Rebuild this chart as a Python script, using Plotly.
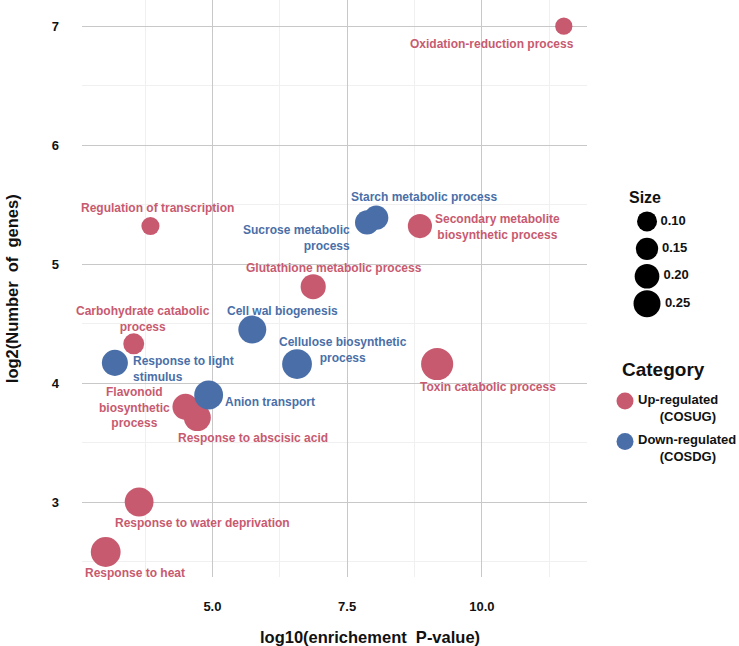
import plotly.graph_objects as go

# ---------------- data ----------------
terms = [
    "Oxidation-reduction process",
    "Regulation of transcription",
    "Secondary metabolite<br>biosynthetic process",
    "Glutathione metabolic process",
    "Carbohydrate catabolic<br>process",
    "Toxin catabolic process",
    "Flavonoid<br>biosynthetic<br>process",
    "Response to abscisic acid",
    "Response to water deprivation",
    "Response to heat",
    "Sucrose metabolic<br>process",
    "Starch metabolic process",
    "Cell wal biogenesis",
    "Response to light<br>stimulus",
    "Cellulose biosynthetic<br>process",
    "Anion transport",
]
log10_p = [11.52, 3.85, 8.85, 6.87, 3.54, 9.17, 4.50, 4.72, 3.64, 3.02,
           7.87, 8.04, 5.74, 3.19, 6.57, 4.93]
log2_genes = [7.00, 5.32, 5.32, 4.81, 4.33, 4.16, 3.80, 3.71, 3.00, 2.58,
              5.35, 5.39, 4.45, 4.17, 4.16, 3.90]
gene_ratio = [0.04, 0.06, 0.19, 0.21, 0.12, 0.36, 0.23, 0.25, 0.29, 0.31,
              0.19, 0.19, 0.27, 0.23, 0.31, 0.29]
category = ["up"] * 10 + ["down"] * 6

category_names = ["up", "down"]
category_labels = ["Up-regulated<br>\u00a0\u00a0\u00a0\u00a0\u00a0\u00a0(COSUG)",
                   "Down-regulated<br>\u00a0\u00a0\u00a0\u00a0\u00a0\u00a0(COSDG)"]
size_breaks = [0.10, 0.15, 0.20, 0.25]
size_break_labels = ["0.10", "0.15", "0.20", "0.25"]
x_tickvals = [5.0, 7.5, 10.0]
x_ticktext = ["5.0", "7.5", "10.0"]
y_tickvals = [3, 4, 5, 6, 7]

# ---------------- style ----------------
COLORS = {"up": "#C85A70", "down": "#4A6FA8"}
FONT = "Liberation Sans, Arial, Helvetica, sans-serif"
INK = "#111111"


def diam(v):
    return 20 + (v - 0.10) * 46.7


# label offsets (pixels): xshift, yshift, xanchor, align
label_style = {
    "Oxidation-reduction process": (-72, -18, "center", "center"),
    "Regulation of transcription": (7, 18, "center", "center"),
    "Secondary metabolite<br>biosynthetic process": (78, -1, "center", "center"),
    "Glutathione metabolic process": (21, 19, "center", "center"),
    "Carbohydrate catabolic<br>process": (9, 25, "center", "center"),
    "Toxin catabolic process": (51, -23, "center", "center"),
    "Flavonoid<br>biosynthetic<br>process": (-51, -1, "center", "center"),
    "Response to abscisic acid": (56, -20, "center", "center"),
    "Response to water deprivation": (63, -21, "center", "center"),
    "Response to heat": (29, -21, "center", "center"),
    "Sucrose metabolic<br>process": (-15, -16, "right", "right"),
    "Starch metabolic process": (48, 21, "center", "center"),
    "Cell wal biogenesis": (30, 19, "center", "center"),
    "Response to light<br>stimulus": (16, -6, "left", "left"),
    "Cellulose biosynthetic<br>process": (46, 14, "center", "center"),
    "Anion transport": (14, -7, "left", "left"),
}

fig = go.Figure()

for cat in category_names:
    idx = [i for i, c in enumerate(category) if c == cat]
    fig.add_trace(go.Scatter(
        x=[log10_p[i] for i in idx],
        y=[log2_genes[i] for i in idx],
        mode="markers",
        marker=dict(size=[diam(gene_ratio[i]) for i in idx],
                    color=COLORS[cat], line=dict(width=0), opacity=1),
        hoverinfo="skip", showlegend=False,
    ))

annotations = []
for i, t in enumerate(terms):
    xs, ys, xa, al = label_style[t]
    annotations.append(dict(
        x=log10_p[i], y=log2_genes[i], xref="x", yref="y",
        text=t, showarrow=False, xshift=xs, yshift=ys,
        xanchor=xa, yanchor="middle", align=al,
        font=dict(family=FONT, size=12, color=COLORS[category[i]], weight="bold"),
    ))

# size legend
fig.add_trace(go.Scatter(
    x=[0] * len(size_breaks), y=list(range(len(size_breaks))),
    xaxis="x2", yaxis="y2", mode="markers+text",
    marker=dict(size=[diam(v) for v in size_breaks], color="#000000",
                line=dict(width=0), opacity=1),
    text=size_break_labels, textposition="middle right",
    textfont=dict(family=FONT, size=13, color=INK, weight="bold"),
    hoverinfo="skip", showlegend=False, cliponaxis=False,
))
# category legend
fig.add_trace(go.Scatter(
    x=[0] * len(category_names), y=list(range(len(category_names))),
    xaxis="x3", yaxis="y3", mode="markers",
    marker=dict(size=17, color=[COLORS[c] for c in category_names],
                line=dict(width=0), opacity=1),
    hoverinfo="skip", showlegend=False, cliponaxis=False,
))
for j, lab in enumerate(category_labels):
    annotations.append(dict(
        x=0, y=j, xref="x3", yref="y3", text=lab, showarrow=False,
        xanchor="left", yanchor="middle", align="left", xshift=11, yshift=-7,
        font=dict(family=FONT, size=13, color=INK, weight="bold"),
    ))

annotations += [
    dict(x=0.8295, y=0.657, xref="paper", yref="paper", text="Size", showarrow=False,
         xanchor="left", yanchor="middle",
         font=dict(family=FONT, size=16, color=INK, weight="bold")),
    dict(x=0.819, y=0.359, xref="paper", yref="paper", text="Category", showarrow=False,
         xanchor="left", yanchor="middle",
         font=dict(family=FONT, size=19, color=INK, weight="bold")),
    dict(x=0.438, y=-0.104, xref="paper", yref="paper",
         text="log10(enrichement\u00a0\u00a0P-value)", showarrow=False,
         xanchor="center", yanchor="middle",
         font=dict(family=FONT, size=16.5, color=INK, weight="bold")),
    dict(x=-0.107, y=0.5, xref="paper", yref="paper",
         text="log2(Number\u00a0\u00a0of\u00a0\u00a0genes)", showarrow=False, textangle=-90,
         xanchor="center", yanchor="middle",
         font=dict(family=FONT, size=16.5, color=INK, weight="bold")),
]

fig.update_layout(
    width=739, height=646,
    margin=dict(l=82, r=0, t=0, b=69),
    paper_bgcolor="white", plot_bgcolor="white",
    font=dict(family=FONT, color=INK),
    annotations=annotations,
    xaxis=dict(
        domain=[0, 0.7686], range=[2.58, 11.95],
        tickvals=x_tickvals, ticktext=x_ticktext,
        showgrid=True, gridcolor="#C8C8C8", gridwidth=1,
        minor=dict(dtick=1.25, tick0=0, showgrid=True, gridcolor="#F0F0F0", gridwidth=1),
        zeroline=False, showline=False, ticks="",
        tickfont=dict(family=FONT, size=13, color=INK, weight="bold"),
        ticklabelstandoff=20,
    ),
    yaxis=dict(
        domain=[0, 1], range=[2.37, 7.22],
        tickvals=y_tickvals,
        showgrid=True, gridcolor="#C8C8C8", gridwidth=1,
        minor=dict(dtick=0.5, tick0=0, showgrid=True, gridcolor="#F0F0F0", gridwidth=1),
        zeroline=False, showline=False, ticks="",
        tickfont=dict(family=FONT, size=13, color=INK, weight="bold"),
        ticklabelstandoff=22,
    ),
    xaxis2=dict(domain=[0.83, 0.89], range=[-1, 1], visible=False, fixedrange=True),
    yaxis2=dict(domain=[0.45, 0.64], range=[3.5, -0.5], visible=False, anchor="x2"),
    xaxis3=dict(domain=[0.7965, 0.8565], range=[-1, 1], visible=False, fixedrange=True),
    yaxis3=dict(domain=[0.2, 0.34], range=[1.5, -0.5], visible=False, anchor="x3"),
)

fig.write_html("out.html", post_script="document.body.style.margin='0';",
               config={"displayModeBar": False})
